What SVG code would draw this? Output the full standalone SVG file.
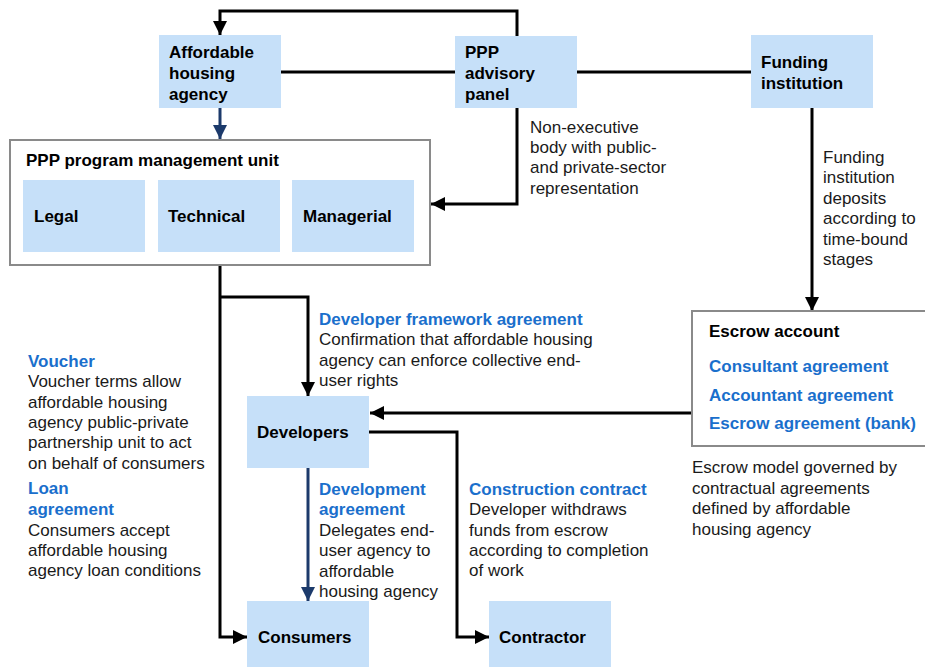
<svg xmlns="http://www.w3.org/2000/svg" width="925" height="667" viewBox="0 0 925 667">
<defs>
<style>
.node{fill:#c6e0f9;}
.frame{fill:#fff;stroke:#8a8a8a;stroke-width:2;}
text{font-family:"Liberation Sans",Arial,sans-serif;font-size:17px;fill:#1a1a1a;}
.b{font-weight:bold;fill:#000;}
.bl{font-weight:bold;fill:#1a6fcc;}
.c{fill:none;stroke:#000;stroke-width:3;}
.n{fill:none;stroke:#1c3a6b;stroke-width:3;}
</style>
<marker id="ah" markerUnits="userSpaceOnUse" markerWidth="14" markerHeight="14" refX="14" refY="7" orient="auto" viewBox="0 0 14 14"><path d="M0,0 L14,7 L0,14 z" fill="#000"/></marker>
<marker id="ahn" markerUnits="userSpaceOnUse" markerWidth="14" markerHeight="14" refX="14" refY="7" orient="auto" viewBox="0 0 14 14"><path d="M0,0 L14,7 L0,14 z" fill="#1c3a6b"/></marker>
</defs>
<rect width="925" height="667" fill="#fff"/>
<g id="connectors">
<path class="c" d="M517,36 V11 H220 V35" marker-end="url(#ah)"/>
<path class="c" d="M281,72 H455"/>
<path class="c" d="M577,72 H751"/>
<path class="n" d="M220,108 V139" marker-end="url(#ahn)"/>
<path class="c" d="M517,108 V204 H431" marker-end="url(#ah)"/>
<path class="c" d="M812,108 V311" marker-end="url(#ah)"/>
<path class="c" d="M220,265 V637 H247" marker-end="url(#ah)"/>
<path class="c" d="M220,297 H308 V396" marker-end="url(#ah)"/>
<path class="c" d="M692,413 H370" marker-end="url(#ah)"/>
<path class="c" d="M369,432 H457 V637 H489" marker-end="url(#ah)"/>
<path class="n" d="M308,468 V601" marker-end="url(#ahn)"/>
</g>
<g id="aha"><rect class="node" x="159" y="35" width="122" height="73"/><text class="b" x="169" y="58">Affordable</text><text class="b" x="169" y="79">housing</text><text class="b" x="169" y="100">agency</text></g>
<g id="ppp-panel"><rect class="node" x="455" y="36" width="122" height="72"/><text class="b" x="465" y="58">PPP</text><text class="b" x="465" y="79">advisory</text><text class="b" x="465" y="100">panel</text></g>
<g id="funding"><rect class="node" x="751" y="35" width="122" height="73"/><text class="b" x="761" y="68">Funding</text><text class="b" x="761" y="89">institution</text></g>
<g id="pmu"><rect class="frame" x="10" y="140" width="420" height="125"/><text class="b" x="26" y="166">PPP program management unit</text>
<g id="legal"><rect class="node" x="23" y="180" width="122" height="72"/><text class="b" x="34" y="222">Legal</text></g>
<g id="technical"><rect class="node" x="158" y="180" width="122" height="72"/><text class="b" x="168" y="222">Technical</text></g>
<g id="managerial"><rect class="node" x="292" y="180" width="122" height="72"/><text class="b" x="303" y="222">Managerial</text></g>
</g>
<g id="escrow"><rect class="frame" x="692" y="311" width="240" height="135"/><text class="b" x="709" y="337">Escrow account</text><text class="bl" x="709" y="372">Consultant agreement</text><text class="bl" x="709" y="401">Accountant agreement</text><text class="bl" x="709" y="429">Escrow agreement (bank)</text></g>
<g id="developers"><rect class="node" x="247" y="396" width="122" height="72"/><text class="b" x="257" y="438">Developers</text></g>
<g id="consumers"><rect class="node" x="247" y="601" width="122" height="70"/><text class="b" x="258" y="643">Consumers</text></g>
<g id="contractor"><rect class="node" x="489" y="601" width="122" height="70"/><text class="b" x="499" y="643">Contractor</text></g>
<g id="labels">
<text x="530" y="133">Non-executive</text><text x="530" y="153">body with public-</text><text x="530" y="173">and private-sector</text><text x="530" y="194">representation</text>
<text x="823" y="163">Funding</text><text x="823" y="183">institution</text><text x="823" y="204">deposits</text><text x="823" y="224">according to</text><text x="823" y="245">time-bound</text><text x="823" y="265">stages</text>
<text class="bl" x="319" y="325">Developer framework agreement</text><text x="319" y="345">Confirmation that affordable housing</text><text x="319" y="366">agency can enforce collective end-</text><text x="319" y="386">user rights</text>
<text class="bl" x="28" y="367">Voucher</text><text x="28" y="387">Voucher terms allow</text><text x="28" y="408">affordable housing</text><text x="28" y="428">agency public-private</text><text x="28" y="448">partnership unit to act</text><text x="28" y="469">on behalf of consumers</text>
<text class="bl" x="28" y="494">Loan</text><text class="bl" x="28" y="515">agreement</text><text x="28" y="536">Consumers accept</text><text x="28" y="556">affordable housing</text><text x="28" y="576">agency loan conditions</text>
<text x="692" y="473">Escrow model governed by</text><text x="692" y="494">contractual agreements</text><text x="692" y="514">defined by affordable</text><text x="692" y="535">housing agency</text>
<text class="bl" x="319" y="495">Development</text><text class="bl" x="319" y="515">agreement</text><text x="319" y="536">Delegates end-</text><text x="319" y="556">user agency to</text><text x="319" y="577">affordable</text><text x="319" y="597">housing agency</text>
<text class="bl" x="469" y="495">Construction contract</text><text x="469" y="515">Developer withdraws</text><text x="469" y="536">funds from escrow</text><text x="469" y="556">according to completion</text><text x="469" y="576">of work</text>
</g>
</svg>
